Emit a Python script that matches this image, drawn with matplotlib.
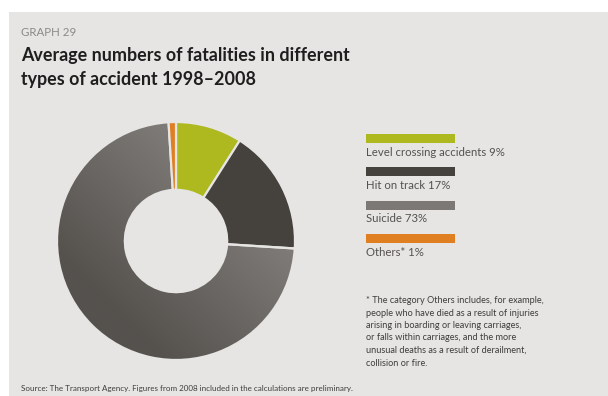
import numpy as np
import matplotlib
matplotlib.use("Agg")
from matplotlib import pyplot as plt
from matplotlib.patches import Rectangle
from matplotlib.colors import LinearSegmentedColormap

categories = ["Level crossing accidents", "Hit on track", "Suicide", "Others*"]
shares = [9, 17, 73, 1]
colors = ["#AEB91F", "#45413C", "#7B7875", "#E07F22"]

bg = "#E6E5E3"
plt.rcParams["font.family"] = ["Lato", "DejaVu Sans"]

fig = plt.figure(figsize=(6.08, 3.96), dpi=100)
fig.patch.set_facecolor("white")

# overlay in pixel coordinates for the panel, legend and notes
lay = fig.add_axes([0, 0, 1, 1])
lay.set_xlim(0, 608)
lay.set_ylim(396, 0)
lay.axis("off")
lay.add_patch(Rectangle((9, 12), 600, 390, facecolor=bg, edgecolor="none"))

lay.text(21, 32, "GRAPH 29", fontsize=8.3, color="#8A8A8A", va="center")
lay.text(21, 61, "Average numbers of fatalities in different", fontsize=12.9,
         fontweight="bold", color="#1E1E1E", va="baseline")
lay.text(21, 85, "types of accident 1998\u20132008", fontsize=12.9,
         fontweight="bold", color="#1E1E1E", va="baseline")

# donut
cx, cy, r = 176, 241, 119
half = 1.05 * r
ax = fig.add_axes([(cx - half) / 608, (396 - cy - half) / 396, 2 * half / 608, 2 * half / 396])
ax.set_facecolor("none")
wedges, _ = ax.pie(shares, colors=colors, startangle=90, counterclock=False, radius=1,
                   wedgeprops=dict(width=0.57, edgecolor=bg, linewidth=1.6))

# darker shading towards the lower left of the big slice
big = wedges[2]
big.set_facecolor("none")
yy, xx = np.mgrid[-1:1:300j, -1:1:300j]
grad = np.clip((xx + yy) * 0.5 + 0.55, 0, 1)
cmap = LinearSegmentedColormap.from_list("shade", ["#55524E", "#7E7B78"])
im = ax.imshow(grad, extent=[-1, 1, -1, 1], origin="lower", cmap=cmap, zorder=0)
im.set_clip_path(big)
ax.set_xlim(-1.05, 1.05)
ax.set_ylim(-1.05, 1.05)
ax.set_aspect("equal")
ax.axis("off")

# legend
for i, (name, pct, col) in enumerate(zip(categories, shares, colors)):
    top = 133.5 + i * 33.5
    lay.add_patch(Rectangle((366, top), 89, 9, facecolor=col, edgecolor="none"))
    lay.text(366, top + 22, f"{name} {pct}%", fontsize=8.2, color="#55524F", va="baseline")

note = ("* The category Others includes, for example,\n"
        "people who have died as a result of injuries\n"
        "arising in boarding or leaving carriages,\n"
        "or falls within carriages, and the more\n"
        "unusual deaths as a result of derailment,\n"
        "collision or fire.")
lay.text(366, 296, note, fontsize=6.6, color="#3F3D3B", va="top", linespacing=1.5)

lay.text(21, 388, "Source: The Transport Agency. Figures from 2008 included in the calculations are preliminary.",
         fontsize=5.75, color="#3F3D3B", va="center")

fig.savefig("out.png", dpi=100)
